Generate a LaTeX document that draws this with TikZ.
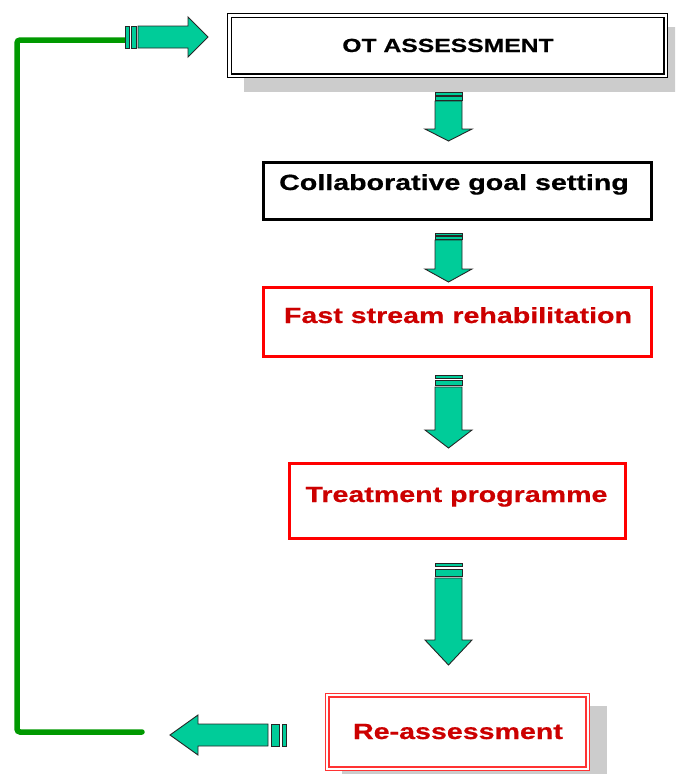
\documentclass[tikz,border=0pt]{standalone}
\usepackage{fontspec}
\newfontfamily\boxfont[FakeStretch=1.3, FakeBold=0.6]{Liberation Sans Bold}
\definecolor{arrowgreen}{RGB}{0,204,153}
\definecolor{loopgreen}{RGB}{0,153,0}
\definecolor{boxred}{RGB}{255,0,0}
\definecolor{textred}{RGB}{204,0,0}
\definecolor{shadowgray}{RGB}{204,204,204}
\tikzset{
  arrowbody/.style={fill=arrowgreen, draw=black!85, line width=0.9pt, line join=miter},
  shadowbox/.style={fill=shadowgray, draw=none},
  plainbox/.style={draw=black, line width=3pt, fill=white, inner sep=0pt},
  redbox/.style={draw=boxred, line width=3pt, fill=white, inner sep=0pt},
  doublebox/.style={draw=black, line width=1.2pt, double=white, double distance=2.4pt, fill=white, inner sep=0pt},
  doublered/.style={draw=boxred!80, line width=1.3pt, double=white, double distance=2.3pt, fill=white, inner sep=0pt},
  boxtext/.style={anchor=base, inner sep=0pt, font=\boxfont\fontsize{22}{26}\selectfont},
  feedback/.style={draw=loopgreen, line width=5.5pt, rounded corners=3pt, line cap=round},
}
% Downward block arrow with two stripes on its tail
\newcommand\dnarrow[7]{%
  \draw[arrowbody] (435,#1) rectangle (462,#2);
  \draw[arrowbody] (435,#3) rectangle (462,#4);
  \draw[arrowbody] (435,#5) -- (462,#5) -- (462,#6) -- (472,#6) -- (448.5,#7)
    -- (425,#6) -- (435,#6) -- cycle;
}
\begin{document}
\begin{tikzpicture}[x=1pt, y=-1pt]
\clip (0,0) rectangle (675,774);
\fill[white] (0,0) rectangle (675,774);

% OT assessment box with drop shadow
\fill[shadowbox] (244,27) rectangle (690,92);
\node[doublebox, minimum width=436.4pt, minimum height=60.4pt] (ot) at (447.5,45.5) {};
\node[boxtext, font=\boxfont\fontsize{19}{22}\selectfont] (ottext) at (448,52) {OT ASSESSMENT};

% Goal setting
\node[plainbox, minimum width=388pt, minimum height=57pt] (goal) at (457.5,191) {};
\node[boxtext] (goaltext) at (454,190) {Collaborative goal setting};

% Fast stream rehabilitation
\node[redbox, minimum width=388pt, minimum height=69pt] (fast) at (457.5,322) {};
\node[boxtext, text=textred] (fasttext) at (458,323) {Fast stream rehabilitation};

% Treatment programme
\node[redbox, minimum width=336pt, minimum height=75pt] (treat) at (457.5,501) {};
\node[boxtext, text=textred] (treattext) at (456.5,502) {Treatment programme};

% Re-assessment box with drop shadow
\fill[shadowbox] (342,706) rectangle (607,790);
\node[doublered, minimum width=260.5pt, minimum height=73.5pt] (reass) at (457.5,732) {};
\node[boxtext, text=textred] (reasstext) at (458,739) {Re-assessment};

% Downward arrows between the stages
\dnarrow{92}{95.5}{96.5}{100}{101}{129}{141}
\dnarrow{233}{235.5}{236.5}{239}{240}{269}{282}
\dnarrow{375}{378}{380}{385}{387}{430}{448}
\dnarrow{563}{566}{569}{576}{578}{640}{665}

% Feedback loop back to the assessment
\coordinate (fbstart) at (142,732);
\coordinate (fbcorner) at (17,732);
\coordinate (fbend) at (125,40);
\draw[feedback] (fbstart) -- (fbcorner) |- (fbend);

% Arrow pointing into the assessment box
\draw[arrowbody] (125,26) rectangle (129,48);
\draw[arrowbody] (131,26) rectangle (136,48);
\draw[arrowbody] (138,26) -- (188,26) -- (188,17) -- (208,37) -- (188,57)
  -- (188,48) -- (138,48) -- cycle;

% Arrow leaving the re-assessment box
\draw[arrowbody] (282,724) rectangle (286,746);
\draw[arrowbody] (271,724) rectangle (279,746);
\draw[arrowbody] (268,724) -- (198,724) -- (198,715) -- (170,735) -- (198,755)
  -- (198,746) -- (268,746) -- cycle;
\end{tikzpicture}
\end{document}
